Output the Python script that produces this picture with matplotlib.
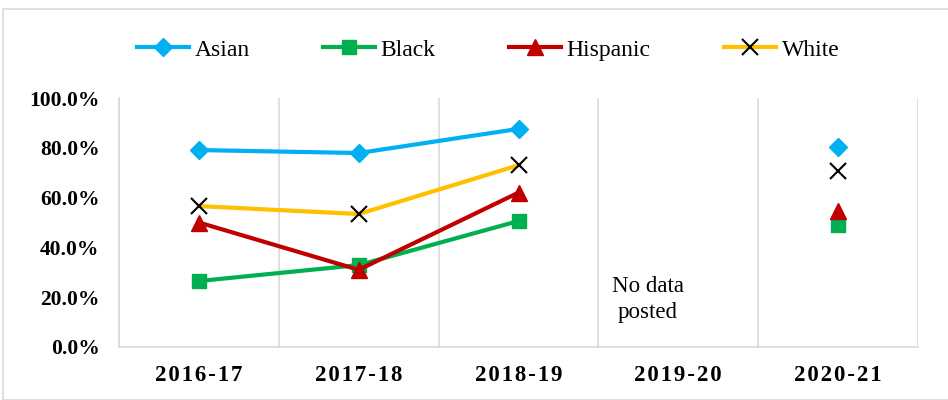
import numpy as np
import matplotlib.pyplot as plt
from matplotlib.patches import Rectangle

years = ['2016-17', '2017-18', '2018-19', '2019-20', '2020-21']
asian = [79.1, 77.9, 87.6, np.nan, 80.3]
black = [26.5, 32.9, 50.6, np.nan, 49.0]
hispanic = [50.0, 31.0, 62.0, np.nan, 54.5]
white = [56.6, 53.4, 73.0, np.nan, 70.7]

plt.rcParams['font.family'] = ['Liberation Serif', 'DejaVu Serif']

fig = plt.figure(figsize=(9.48, 4), dpi=100)
ax = fig.add_axes([119/948, 1 - 347/400, (918-119)/948, (347-98)/400])

x = np.arange(len(years))
ax.plot(x, asian, color='#00B0F0', lw=3, marker='D', ms=9, label='Asian')
ax.plot(x, black, color='#00B050', lw=3, marker='s', ms=10, label='Black')
ax.plot(x, hispanic, color='#C00000', lw=3, marker='^', ms=11, label='Hispanic')
ax.plot(x, white, color='#FFC000', lw=3, marker='x', ms=11, mec='black', mew=1.5, label='White')

ax.set_xlim(-0.5, len(years) - 0.5)
ax.set_ylim(0, 100)
ax.set_yticks(np.arange(0, 101, 20))
ax.set_yticklabels(['%.1f%%' % v for v in np.arange(0, 101, 20)], fontsize=15.5, fontweight='bold')
ax.set_xticks(x)
# letter-spaced year labels
ax.set_xticklabels(['\u200a'.join(y) for y in years], fontsize=16.5, fontweight='bold')
ax.set_xticks(np.arange(-0.5, len(years), 1), minor=True)
ax.grid(which='minor', axis='x', color='#D9D9D9', lw=1.2)
ax.tick_params(axis='both', which='both', length=0)
ax.tick_params(axis='x', pad=13)
ax.tick_params(axis='y', pad=14)
for s in ['top', 'right']:
    ax.spines[s].set_visible(False)
for s in ['left', 'bottom']:
    ax.spines[s].set_color('#D9D9D9')
    ax.spines[s].set_linewidth(1.2)

ax.text(2.81, 19, 'No data\nposted', ha='center', va='center', fontsize=16.5, linespacing=1.3)

fig.legend(loc='center', bbox_to_anchor=(488/948, 1 - 50/400), ncol=4, frameon=False,
           fontsize=17, handlelength=2.2, columnspacing=3.1, handletextpad=0.25)

fig.patches.append(Rectangle((3/948, 0), 1.2, 1 - 3/400 - 6/400, transform=fig.transFigure,
                             fill=False, edgecolor='#D9D9D9', lw=1.2))

fig.savefig('out.png', dpi=100)
